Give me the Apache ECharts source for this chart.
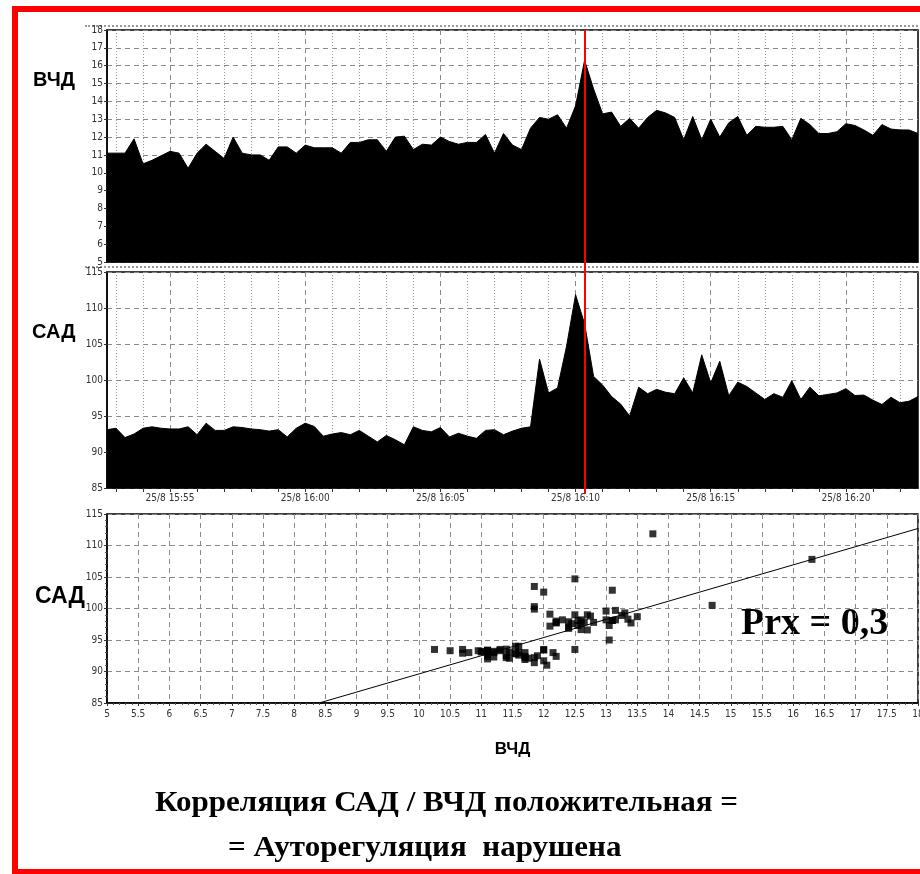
<!DOCTYPE html>
<html>
<head>
<meta charset="utf-8">
<title>САД / ВЧД</title>
<script src="https://cdn.jsdelivr.net/npm/echarts@6/dist/echarts.min.js"></script>
<style>
  html, body { margin: 0; padding: 0; background: #fff; overflow: hidden; }
  #frame { position: absolute; left: 12px; top: 6px; width: 940px; height: 869px; border: 6px solid #f00; box-sizing: border-box; }
  .sep { position: absolute; left: 85px; width: 833px; border-top: 2px dotted #999; }
  #chart { position: absolute; left: 0; top: 0; width: 920px; height: 874px; }
</style>
</head>
<body>
<div id="frame"></div>
<div class="sep" style="top:25px"></div>
<div class="sep" style="top:266px"></div>
<div id="chart"></div>
<script>
// ВЧД (ICP), samples every 20 s from 15:52:40
const icp = [
  11.1, 11.1, 11.1, 11.9, 10.5, 10.7, 10.95, 11.2, 11.1, 10.25,
  11.1, 11.6, 11.2, 10.8, 12.0, 11.1, 11.0, 11.0, 10.7, 11.45,
  11.45, 11.1, 11.55, 11.4, 11.4, 11.4, 11.1, 11.7, 11.7, 11.85,
  11.85, 11.2, 12.0, 12.05, 11.3, 11.6, 11.55, 12.0, 11.75, 11.6,
  11.7, 11.7, 12.15, 11.1, 12.2, 11.55, 11.3, 12.5, 13.1, 13.0,
  13.25, 12.5, 13.75, 16.3, 14.7, 13.3, 13.4, 12.6, 13.05, 12.5,
  13.1, 13.5, 13.35, 13.1, 11.85, 13.15, 11.85, 13.0, 12.0, 12.8,
  13.15, 12.1, 12.6, 12.55, 12.55, 12.6, 11.85, 13.05, 12.7, 12.2,
  12.2, 12.3, 12.75, 12.65, 12.4, 12.1, 12.7, 12.45, 12.4, 12.4,
  12.2
];

// САД (MAP), same timestamps
const sap = [
  93.1, 93.3, 92.0, 92.5, 93.3, 93.5, 93.3, 93.2, 93.2, 93.5,
  92.4, 94.0, 93.0, 93.0, 93.5, 93.4, 93.2, 93.1, 92.9, 93.1,
  92.1, 93.3, 94.0, 93.55, 92.2, 92.5, 92.7, 92.4, 93.0, 92.2,
  91.4, 92.3, 91.7, 91.0, 93.5, 93.0, 92.8, 93.4, 92.1, 92.6,
  92.2, 91.9, 93.0, 93.1, 92.4, 92.9, 93.3, 93.5, 102.9, 98.2,
  98.9, 104.7, 111.85, 107.8, 100.5, 99.3, 97.7, 96.65, 95.0, 99.0,
  98.1, 98.7, 98.3, 98.1, 100.3, 98.2, 103.5, 99.6, 102.6, 97.8,
  99.7, 99.1, 98.2, 97.3, 98.1, 97.6, 99.9, 97.3, 99.0, 97.8,
  98.0, 98.2, 98.8, 97.85, 97.9, 97.2, 96.6, 97.6, 96.85, 97.05,
  97.7
];

const dateLabel = '25/8';
const startSec = 15 * 3600 + 52 * 60 + 40;
const stepSec = 20;
const markerTime = '16:10:20';

// regression line ends (ВЧД, САД)
const fitX = [8.4, 18];
const fitY = [85, 112.7];

const pad = (n) => String(n).padStart(2, '0');
const times = icp.map((_, i) => {
  const s = startSec + i * stepSec;
  return pad(Math.floor(s / 3600)) + ':' + pad(Math.floor(s / 60) % 60) + ':' + pad(s % 60);
});
const isMinute = (i) => times[i].endsWith(':00');
const isMajor = (i) => isMinute(i) && Number(times[i].slice(3, 5)) % 5 === 0;

const scatterData = icp.map((v, i) => [v, sap[i]]);
const fitData = fitX.map((x, i) => [x, fitY[i]]);

const tickFont = "'Liberation Sans Narrow', 'DejaVu Sans Condensed', sans-serif";
const serif = '"Liberation Serif", "Times New Roman", serif';
const sans = '"Liberation Sans", Arial, sans-serif';
const dashed = { color: '#8a8a8a', type: [5, 4], width: 1 };
const dotted = { color: '#9a9a9a', type: [1, 2], width: 1 };
const axisBlack = { lineStyle: { color: '#000', width: 1.5 } };
const labelStyle = { color: '#333', fontSize: 10, fontFamily: tickFont };

const L = 107, W = 811;

const chart = echarts.init(document.getElementById('chart'));

const timeAxis = (grid, major, showLabels) => ({
  type: 'category',
  gridIndex: grid,
  data: times,
  boundaryGap: false,
  axisLine: major ? axisBlack : { show: false },
  axisTick: major && showLabels
    ? { interval: (i) => isMinute(i), length: 4, lineStyle: { color: '#333' } }
    : { show: false },
  axisLabel: major && showLabels
    ? Object.assign({ interval: (i) => isMajor(i), formatter: (v) => dateLabel + ' ' + v.slice(0, 5), margin: 5 }, labelStyle)
    : { show: false },
  splitLine: {
    show: true,
    interval: major ? (i) => isMajor(i) : (i) => isMinute(i) && !isMajor(i),
    lineStyle: major ? dashed : dotted
  }
});

const gridBox = (top, height) => ({
  left: L, top: top, width: W, height: height,
  show: true, borderColor: '#000', borderWidth: 1.5,
  outerBoundsMode: 'none'
});

chart.setOption({
  animation: false,
  grid: [
    gridBox(30, 232),
    gridBox(272, 216),
    gridBox(514, 189),
    { left: L, top: 30, width: W, height: 464, outerBoundsMode: 'none' }
  ],
  xAxis: [
    timeAxis(0, true, false),
    timeAxis(0, false, false),
    timeAxis(1, true, true),
    timeAxis(1, false, false),
    {
      type: 'value', gridIndex: 2, min: 5, max: 18, interval: 0.5,
      axisLine: axisBlack,
      axisTick: { length: 3, lineStyle: { color: '#333' } },
      minorTick: { show: true, splitNumber: 5, length: 2, lineStyle: { color: '#555' } },
      axisLabel: Object.assign({ margin: 6 }, labelStyle),
      splitLine: { lineStyle: dashed },
      name: 'ВЧД', nameLocation: 'middle', nameGap: 38,
      nameTextStyle: { fontSize: 17, fontWeight: 'bold', color: '#000', fontFamily: sans }
    },
    { type: 'category', gridIndex: 3, data: times, boundaryGap: false, show: false }
  ],
  yAxis: [
    {
      type: 'value', gridIndex: 0, min: 5, max: 18, interval: 1,
      axisLine: { show: true, lineStyle: { color: '#000', width: 1.5 } },
      axisTick: { show: true, length: 3, lineStyle: { color: '#333' } },
      axisLabel: Object.assign({ margin: 4 }, labelStyle),
      splitLine: { lineStyle: dashed }
    },
    {
      type: 'value', gridIndex: 1, min: 85, max: 115, interval: 5,
      axisLine: { show: true, lineStyle: { color: '#000', width: 1.5 } },
      axisTick: { show: true, length: 3, lineStyle: { color: '#333' } },
      axisLabel: Object.assign({ margin: 4 }, labelStyle),
      splitLine: { lineStyle: dashed }
    },
    {
      type: 'value', gridIndex: 2, min: 85, max: 115, interval: 5,
      axisLine: { show: true, lineStyle: { color: '#000', width: 1.5 } },
      axisTick: { show: true, length: 3, lineStyle: { color: '#333' } },
      minorTick: { show: true, splitNumber: 5, length: 2, lineStyle: { color: '#555' } },
      axisLabel: Object.assign({ margin: 4 }, labelStyle),
      splitLine: { lineStyle: dashed }
    },
    { type: 'value', gridIndex: 3, min: 0, max: 1, show: false }
  ],
  series: [
    {
      name: 'ВЧД', type: 'line', xAxisIndex: 0, yAxisIndex: 0, data: icp,
      showSymbol: false, lineStyle: { color: '#000', width: 1 },
      areaStyle: { color: '#000', opacity: 1, origin: 'start' }
    },
    {
      name: 'САД', type: 'line', xAxisIndex: 2, yAxisIndex: 1, data: sap,
      showSymbol: false, lineStyle: { color: '#000', width: 1 },
      areaStyle: { color: '#000', opacity: 1, origin: 'start' }
    },
    {
      name: 'САД/ВЧД', type: 'scatter', xAxisIndex: 4, yAxisIndex: 2, data: scatterData,
      symbol: 'rect', symbolSize: 7, itemStyle: { color: '#000' }
    },
    {
      name: 'fit', type: 'line', xAxisIndex: 4, yAxisIndex: 2, data: fitData,
      showSymbol: false, lineStyle: { color: '#000', width: 1 }, clip: true
    },
    {
      name: 'marker', type: 'line', xAxisIndex: 5, yAxisIndex: 3, data: [],
      markLine: {
        silent: true, symbol: 'none', label: { show: false },
        lineStyle: { color: '#f00', width: 2, type: 'solid' },
        data: [{ xAxis: markerTime }]
      }
    }
  ],
  graphic: [
    { type: 'text', left: 33, top: 70, style: { text: 'ВЧД', font: 'bold 20px ' + sans, fill: '#000' } },
    { type: 'text', left: 32, top: 322, style: { text: 'САД', font: 'bold 20px ' + sans, fill: '#000' } },
    { type: 'text', left: 35, top: 585, style: { text: 'САД', font: 'bold 23px ' + sans, fill: '#000' } },
    { type: 'text', left: 741, top: 605, style: { text: 'Prx = 0,3', font: 'bold 38px ' + serif, fill: '#000' } },
    { type: 'text', x: 155, y: 789, scaleX: 1.07, style: { text: 'Корреляция САД / ВЧД положительная =', font: 'bold 29px ' + serif, fill: '#000' } },
    { type: 'text', x: 228, y: 834, scaleX: 1.07, style: { text: '= Ауторегуляция  нарушена', font: 'bold 29px ' + serif, fill: '#000' } }
  ]
});
</script>
</body>
</html>
